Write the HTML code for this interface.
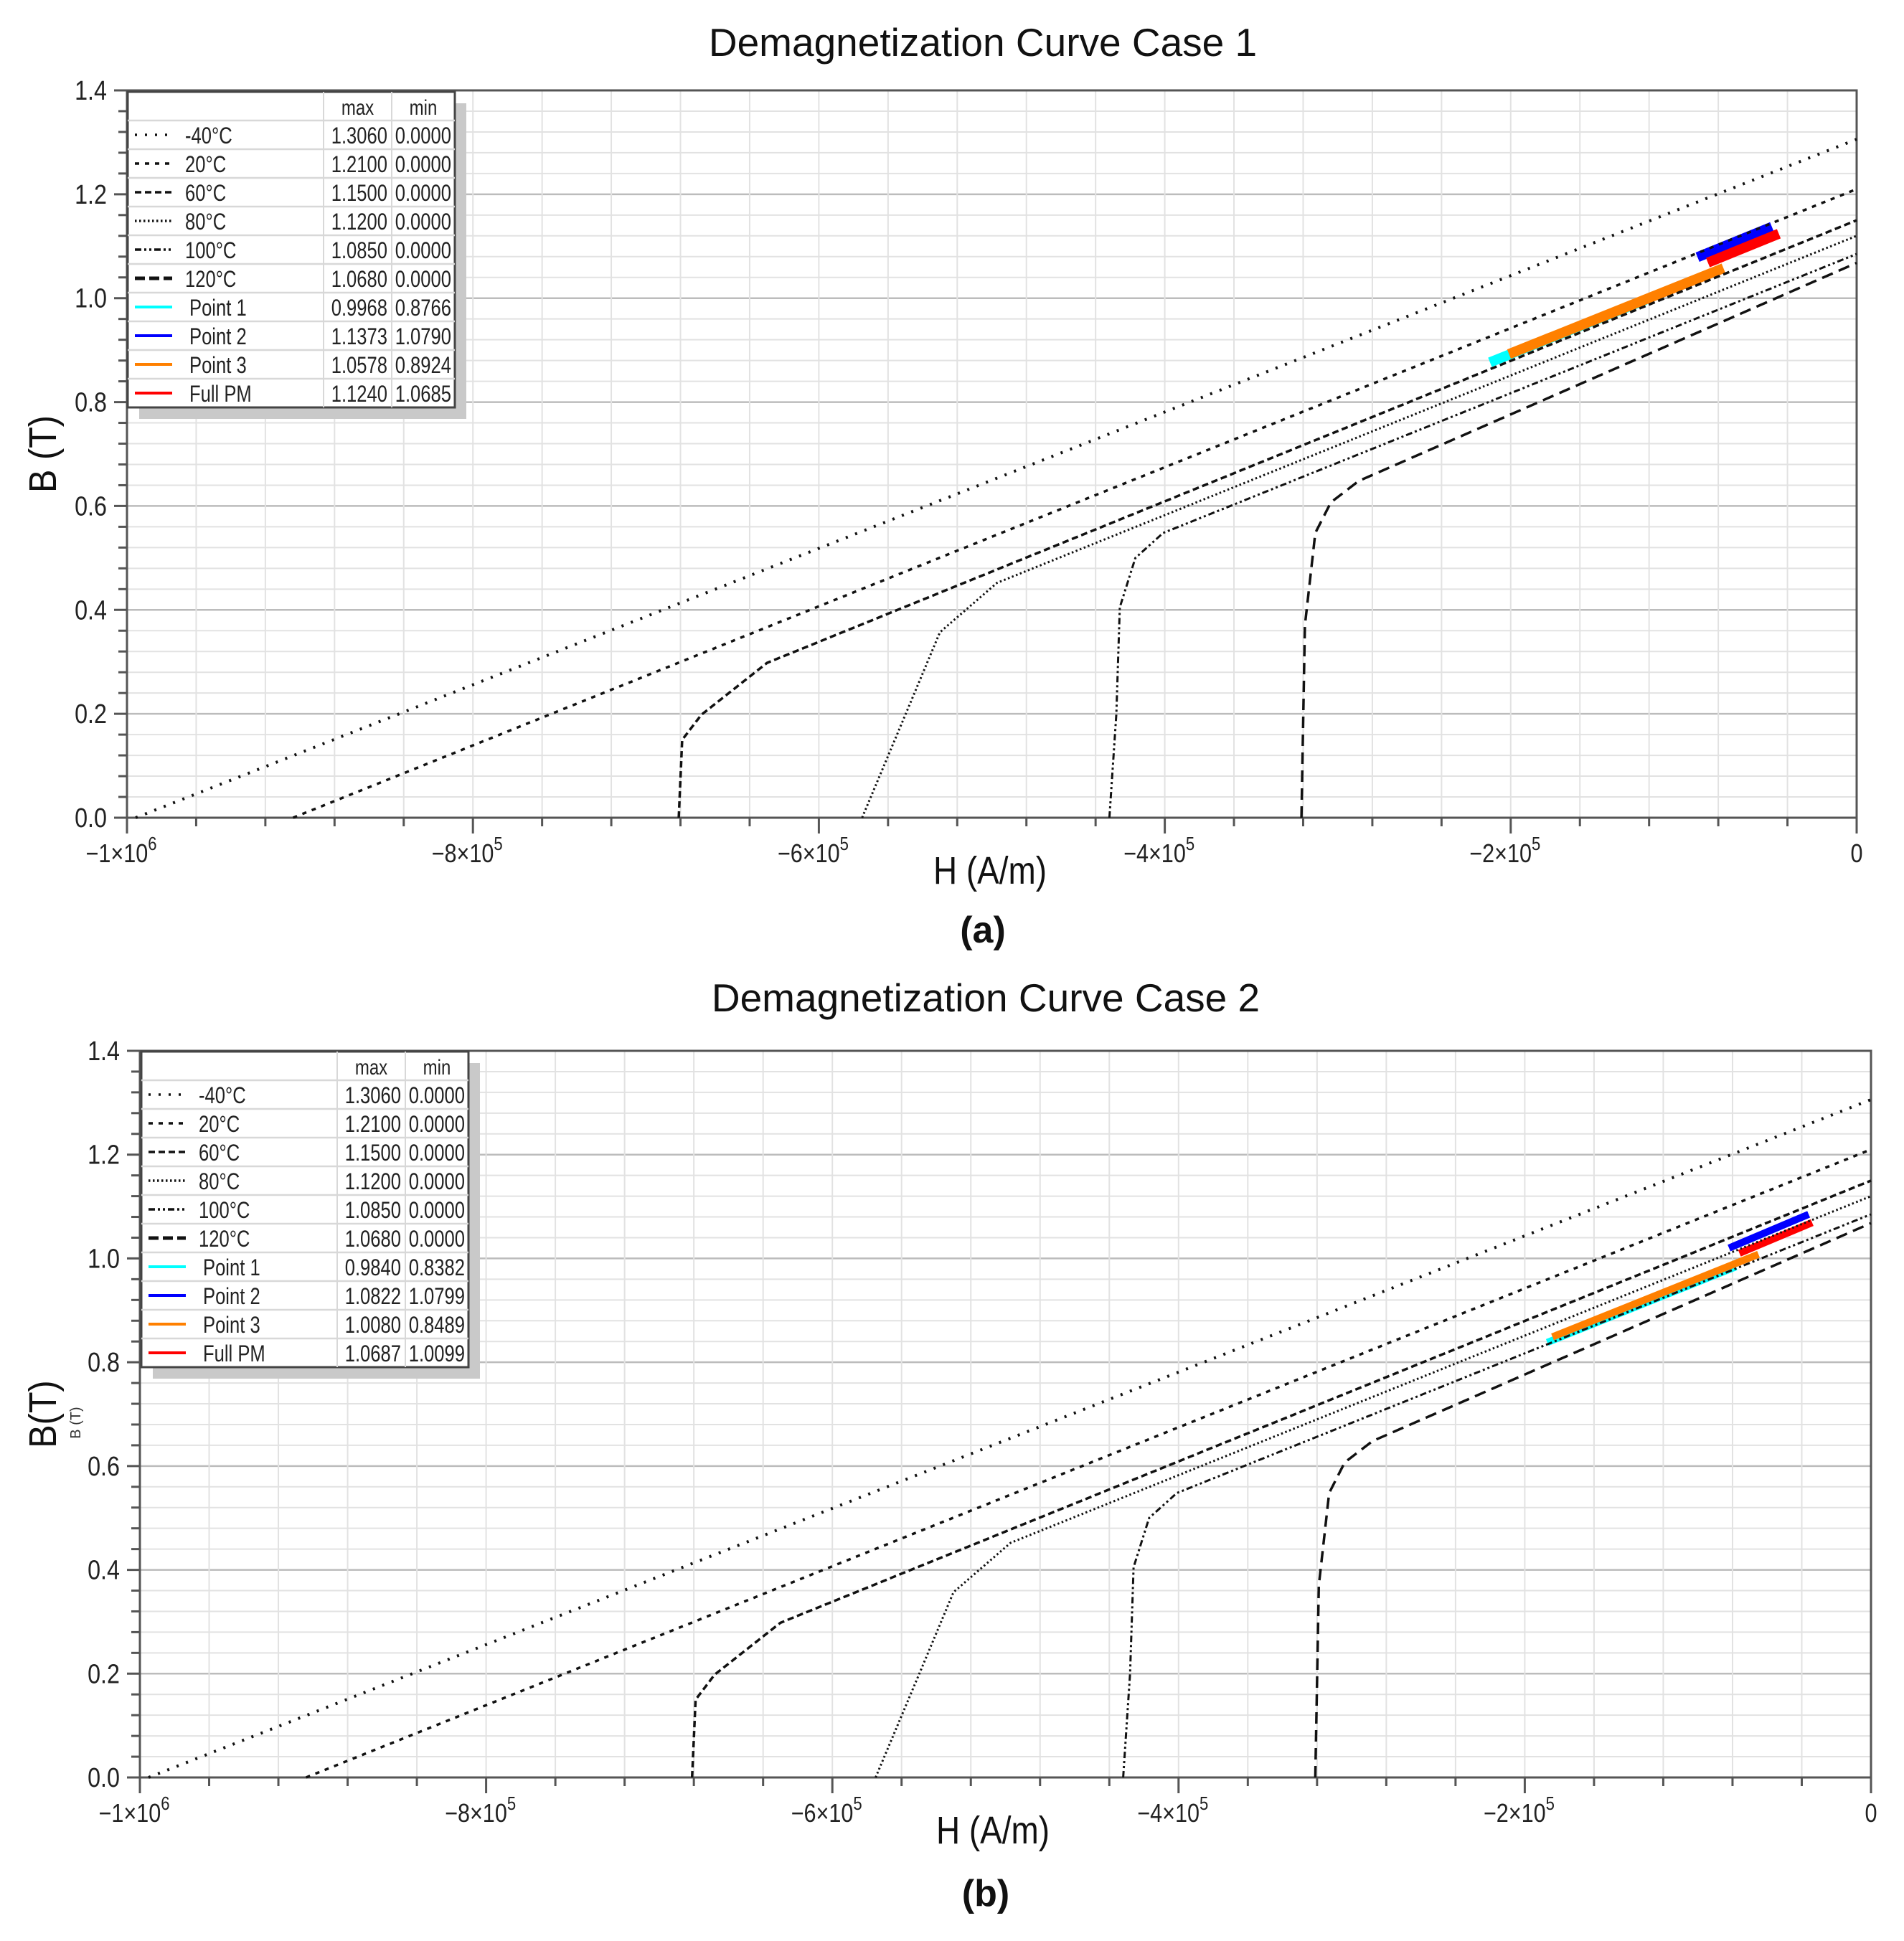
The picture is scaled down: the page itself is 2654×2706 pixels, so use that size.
<!DOCTYPE html>
<html><head><meta charset="utf-8"><style>
html,body{margin:0;padding:0;background:#fff;}
svg{display:block;font-family:"Liberation Sans",sans-serif;}
</style></head><body>
<svg id="fig" width="2654" height="2706" viewBox="0 0 2654 2706" xmlns="http://www.w3.org/2000/svg"></svg>
<script>
// ---- data (H in units of 1e5 A/m, B in T) ----
const curveNames = ["-40°C","20°C","60°C","80°C","100°C","120°C"];
const h_m40 = [-9.95, 0];      const b_m40 = [0, 1.306];
const h_20  = [-9.04, 0];      const b_20  = [0, 1.21];
const h_60  = [-6.81,-6.79,-6.68,-6.30,0];  const b_60 = [0,0.15,0.198,0.298,1.15];
const h_80  = [-5.75,-5.48,-5.30,-4.97,0];  const b_80 = [0,0.214,0.357,0.452,1.12];
const h_100 = [-4.32,-4.28,-4.26,-4.17,-4.01,0]; const b_100 = [0,0.2,0.405,0.5,0.548,1.085];
const h_120 = [-3.21,-3.19,-3.13,-3.04,-2.88,0]; const b_120 = [0,0.37,0.548,0.607,0.648,1.068];
// Case 1 operating segments
const a_p1_h=[-2.12,-1.22], a_p1_b=[0.8766,0.9968];
const a_p2_h=[-0.92,-0.49], a_p2_b=[1.0790,1.1373];
const a_p3_h=[-2.01,-0.77], a_p3_b=[0.8924,1.0578];
const a_pm_h=[-0.86,-0.45], a_pm_b=[1.0685,1.1240];
// Case 2 operating segments
const b_p1_h=[-1.87,-0.78], b_p1_b=[0.8382,0.9840];
const b_p2_h=[-0.82,-0.36], b_p2_b=[1.020,1.085];
const b_p3_h=[-1.84,-0.65], b_p3_b=[0.8489,1.0080];
const b_pm_h=[-0.76,-0.34], b_pm_b=[1.010,1.069];
// legend tables
const legLabels = ["-40°C","20°C","60°C","80°C","100°C","120°C","Point 1","Point 2","Point 3","Full PM"];
const legMaxA = ["1.3060","1.2100","1.1500","1.1200","1.0850","1.0680","0.9968","1.1373","1.0578","1.1240"];
const legMinA = ["0.0000","0.0000","0.0000","0.0000","0.0000","0.0000","0.8766","1.0790","0.8924","1.0685"];
const legMaxB = ["1.3060","1.2100","1.1500","1.1200","1.0850","1.0680","0.9840","1.0822","1.0080","1.0687"];
const legMinB = ["0.0000","0.0000","0.0000","0.0000","0.0000","0.0000","0.8382","1.0799","0.8489","1.0099"];
const yTicks = [0,0.2,0.4,0.6,0.8,1.0,1.2,1.4];
const xTicks = [-10,-8,-6,-4,-2,0];
const xTickBase = ["−1×10","−8×10","−6×10","−4×10","−2×10","0"];
const xTickExp = ["6","5","5","5","5",""];

const NS="http://www.w3.org/2000/svg";
const fig=document.getElementById('fig');
function mk(tag,attrs,parent){const e=document.createElementNS(NS,tag);for(const k in attrs)e.setAttribute(k,attrs[k]);(parent||fig).appendChild(e);return e;}
// narrow text: horizontally compressed
function ntxt(parent,x,y,str,size,anchor,sx){
  const t=mk('text',{x:0,y:0,'text-anchor':anchor,'font-size':size,fill:'#222',transform:`translate(${x} ${y}) scale(${sx} 1)`},parent);
  t.textContent=str;return t;
}

const styles=[
 {dash:"3 11",w:4},{dash:"6 8",w:3.5},{dash:"9 5",w:3.5},{dash:"2.5 3.5",w:3},{dash:"9 4 3 4 3 4",w:3},{dash:"16 9",w:3.5}
];
const colors=["#00ffff","#0000ff","#ff8000","#ff0000"];

function chart(cfg){
  const L=cfg.l,R=cfg.r,T=cfg.t,Bt=cfg.b;
  const x=h=>L+(h+10)/10*(R-L);
  const y=v=>Bt-v/1.4*(Bt-T);
  const g=mk('g',{});
  
  
  for(let i=0;i<=35;i++){const v=i*0.04;const maj=(i%5===0);
    const gl=mk('line',{x1:L,x2:R,y1:y(v),y2:y(v),stroke:maj?'#bcbcbc':'#e2e2e2','stroke-width':maj?2.5:2},g);
    }
  for(let i=0;i<=25;i++){const h=-10+i*0.4;
    const gl=mk('line',{x1:x(h),x2:x(h),y1:T,y2:Bt,stroke:'#e2e2e2','stroke-width':2},g);
    }
  const ax=mk('path',{d:`M${L} ${T} H${R} V${Bt} H${L} Z`,fill:'none',stroke:'#555','stroke-width':3},g);
  
  for(let i=0;i<=35;i++){const v=i*0.04;const maj=(i%5===0);
    mk('line',{x1:L-(maj?18:12),x2:L,y1:y(v),y2:y(v),stroke:'#555','stroke-width':3},g);}
  for(let i=0;i<=25;i++){const h=-10+i*0.4;const maj=(i%5===0);
    mk('line',{x1:x(h),x2:x(h),y1:Bt,y2:Bt+(maj?22:12),stroke:'#555','stroke-width':3},g);}
  yTicks.forEach(v=>{const t=ntxt(g,L-28,y(v)+13,v.toFixed(1),38,'end',0.85);
    });
  xTicks.forEach((h,i)=>{const t=mk('text',{x:0,y:0,'text-anchor':'middle','font-size':36,fill:'#222',transform:`translate(${x(h)+(xTickExp[i]?-8:0)} ${Bt+62}) scale(0.85 1)`},g);
    t.textContent=xTickBase[i];
    if(xTickExp[i]){const s=mk('tspan',{dy:-17,'font-size':26},t);s.textContent=xTickExp[i];}
    });
  const tt=mk('text',{x:cfg.titleX,y:cfg.titleY,'text-anchor':'middle','font-size':55,fill:'#111'},g);
  tt.textContent=cfg.title;
  const xl=ntxt(g,cfg.titleX+10,Bt+92,'H (A/m)',54,'middle',0.85);xl.setAttribute('fill','#111');
  
  const yl=mk('text',{x:0,y:0,'text-anchor':'middle','font-size':54,fill:'#111',transform:`translate(78 ${y(0.7)}) rotate(-90) scale(0.9 1)`},g);
  yl.textContent=cfg.ylab;
  if(cfg.ysub){const ys=mk('text',{x:0,y:0,'text-anchor':'middle','font-size':20,fill:'#333',transform:`translate(112 ${y(0.7)+12}) rotate(-90)`},g);
    ys.textContent='B (T)';}
  const pl=mk('text',{x:cfg.titleX,y:cfg.panelY,'text-anchor':'middle','font-size':52,'font-weight':'bold',fill:'#111'},g);
  pl.textContent=cfg.panel;
  cfg.segs.forEach((s,i)=>{const ln=mk('line',{x1:x(s[0][0]),y1:y(s[1][0]),x2:x(s[0][1]),y2:y(s[1][1]),stroke:colors[i],'stroke-width':cfg.segW},g);
    });
  const curves=[[h_m40,b_m40],[h_20,b_20],[h_60,b_60],[h_80,b_80],[h_100,b_100],[h_120,b_120]];
  curves.forEach((c,i)=>{const d=c[0].map((h,k)=>(k?'L':'M')+x(h).toFixed(1)+' '+y(c[1][k]).toFixed(1)).join(' ');
    const p=mk('path',{d:d,fill:'none',stroke:'#111','stroke-width':styles[i].w,'stroke-dasharray':styles[i].dash},g);
    });
  // legend
  const lx=cfg.lx, ly=cfg.ly, lw=456, hh=40, rh=40;
  const lg=mk('g',{},g);
  mk('rect',{x:lx+16,y:ly+16,width:lw,height:hh+10*rh,fill:'#c9c9c9'},lg);
  mk('rect',{x:lx,y:ly,width:lw,height:hh+10*rh,fill:'#fff',stroke:'#444','stroke-width':3},lg);
  const c1=lx+273,c2=lx+368;
  mk('line',{x1:c1,x2:c1,y1:ly,y2:ly+hh+10*rh,stroke:'#d8d8d8','stroke-width':2},lg);
  mk('line',{x1:c2,x2:c2,y1:ly,y2:ly+hh+10*rh,stroke:'#d8d8d8','stroke-width':2},lg);
  ntxt(lg,(c1+c2)/2,ly+32,'max',30,'middle',0.8);
  ntxt(lg,(c2+lx+lw)/2,ly+32,'min',30,'middle',0.8);
  legLabels.forEach((lab,i)=>{const ry=ly+hh+i*rh;
    mk('line',{x1:lx,x2:lx+lw,y1:ry,y2:ry,stroke:'#d8d8d8','stroke-width':2.5},lg);
    const cy=ry+rh/2;
    let sw;
    if(i<6) sw=mk('line',{x1:lx+10,x2:lx+62,y1:cy,y2:cy,stroke:'#111','stroke-width':i===5?5:3.5,'stroke-dasharray':i===5?'14 6':styles[i].dash},lg);
    else sw=mk('line',{x1:lx+10,x2:lx+62,y1:cy,y2:cy,stroke:colors[i-6],'stroke-width':4},lg);
    
    const t=ntxt(lg,lx+(i<6?80:86),cy+12,lab,32,'start',0.8);
    
    ntxt(lg,c2-6,cy+12,cfg.lmax[i],32,'end',0.8);
    ntxt(lg,lx+lw-5,cy+12,cfg.lmin[i],32,'end',0.8);
  });
}
chart({name:'chart-case-1',l:177,r:2588,t:126,b:1140,title:'Demagnetization Curve Case 1',titleX:1370,titleY:78,panel:'(a)',panelY:1314,ylab:'B (T)',ysub:false,segW:14,
  segs:[[a_p1_h,a_p1_b],[a_p2_h,a_p2_b],[a_p3_h,a_p3_b],[a_pm_h,a_pm_b]],lx:178,ly:128,lmax:legMaxA,lmin:legMinA});
chart({name:'chart-case-2',l:195,r:2608,t:1465,b:2478,title:'Demagnetization Curve Case 2',titleX:1374,titleY:1410,panel:'(b)',panelY:2657,ylab:'B(T)',ysub:true,segW:10,
  segs:[[b_p1_h,b_p1_b],[b_p2_h,b_p2_b],[b_p3_h,b_p3_b],[b_pm_h,b_pm_b]],lx:197,ly:1466,lmax:legMaxB,lmin:legMinB});
</script>
</body></html>
